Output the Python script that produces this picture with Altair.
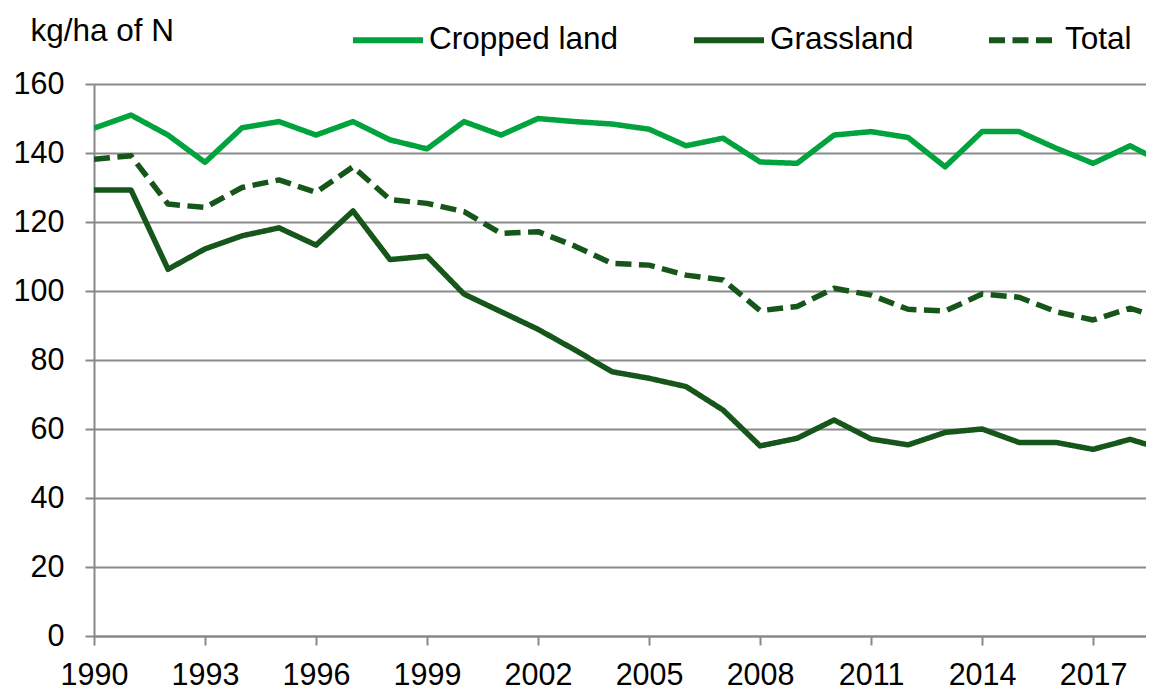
import altair as alt
import pandas as pd

years = list(range(1990, 2020))
series_names = ["Cropped land", "Grassland", "Total"]
cropped = [147.2, 151.0, 145.2, 137.3, 147.3, 149.1, 145.2, 149.1, 143.8, 141.2,
           149.1, 145.2, 150.0, 149.1, 148.4, 146.9, 142.1, 144.3, 137.4, 137.0,
           145.2, 146.2, 144.5, 136.0, 146.2, 146.2, 141.4, 137.0, 142.1, 136.6]
grassland = [129.3, 129.3, 106.3, 112.2, 116.0, 118.3, 113.3, 123.2, 109.1, 110.1,
             99.1, 94.0, 88.9, 82.9, 76.6, 74.7, 72.3, 65.5, 55.1, 57.3,
             62.6, 57.1, 55.4, 59.0, 60.0, 56.1, 56.1, 54.1, 57.0, 53.8]
total = [138.2, 139.2, 125.2, 124.2, 130.0, 132.2, 128.6, 136.0, 126.5, 125.4,
         123.0, 116.7, 117.2, 113.0, 108.0, 107.5, 104.6, 103.2, 94.3, 95.5,
         100.8, 98.8, 94.7, 94.2, 99.1, 98.2, 94.0, 91.6, 95.0, 91.6]
x_ticks = list(range(1990, 2018, 3))
y_ticks = list(range(0, 161, 20))

colors = ["#00A33D", "#17561A", "#17561A"]
dashes = [[1, 0], [1, 0], [16, 7.5]]

rows = []
for name, vals in zip(series_names, [cropped, grassland, total]):
    for yr, v in zip(years, vals):
        rows.append({"year": yr, "value": v, "series": name})
df = pd.DataFrame(rows)

FONT = "Liberation Sans"

chart = alt.Chart(df).mark_line(
    clip=True, strokeWidth=5.5, strokeJoin="round", strokeCap="butt"
).encode(
    x=alt.X("year:Q",
            scale=alt.Scale(domain=[1990, 2018.43], nice=False, zero=False),
            axis=alt.Axis(values=x_ticks, format="d", title=None, labelFlush=False,
                          grid=False, tickSize=9, labelPadding=15, tickColor="#888888",
                          domainColor="#888888", domainWidth=2, tickWidth=2,
                          labelFontSize=30.5, labelFont=FONT, labelColor="black",
                          labelOverlap=False)),
    y=alt.Y("value:Q",
            scale=alt.Scale(domain=[0, 160], nice=False, zero=True),
            axis=alt.Axis(values=y_ticks, title="kg/ha of N", titleAngle=0,
                          titleAlign="left", titleBaseline="alphabetic",
                          titleX=-64, titleY=-44, titleFontSize=31.5,
                          titleFont=FONT, titleFontWeight="normal", titleColor="black",
                          grid=True, gridColor="#8a8a8a", gridWidth=2,
                          tickSize=9, labelPadding=21, tickColor="#888888",
                          domainColor="#888888", domainWidth=2, tickWidth=2,
                          labelFontSize=30.5, labelFont=FONT, labelColor="black")),
    color=alt.Color("series:N",
                    scale=alt.Scale(domain=series_names, range=colors),
                    legend=alt.Legend(title=None)),
    strokeDash=alt.StrokeDash("series:N",
                              scale=alt.Scale(domain=series_names, range=dashes),
                              legend=alt.Legend(title=None)),
).properties(
    width=1052, height=552, autosize="none",
    padding={"left": 86, "top": 76, "right": 0, "bottom": 50}
).configure_view(
    stroke=None
).configure_legend(
    orient="none", legendX=256, legendY=-82, direction="horizontal",
    symbolType="stroke", symbolSize=4900, symbolStrokeWidth=6,
    labelFontSize=31.5, labelFont=FONT, labelColor="black", labelOffset=3,
    columnPadding=63, padding=0, rowPadding=0, labelLimit=0
)

chart.save("out.html", embed_options={"renderer": "svg", "actions": False})
